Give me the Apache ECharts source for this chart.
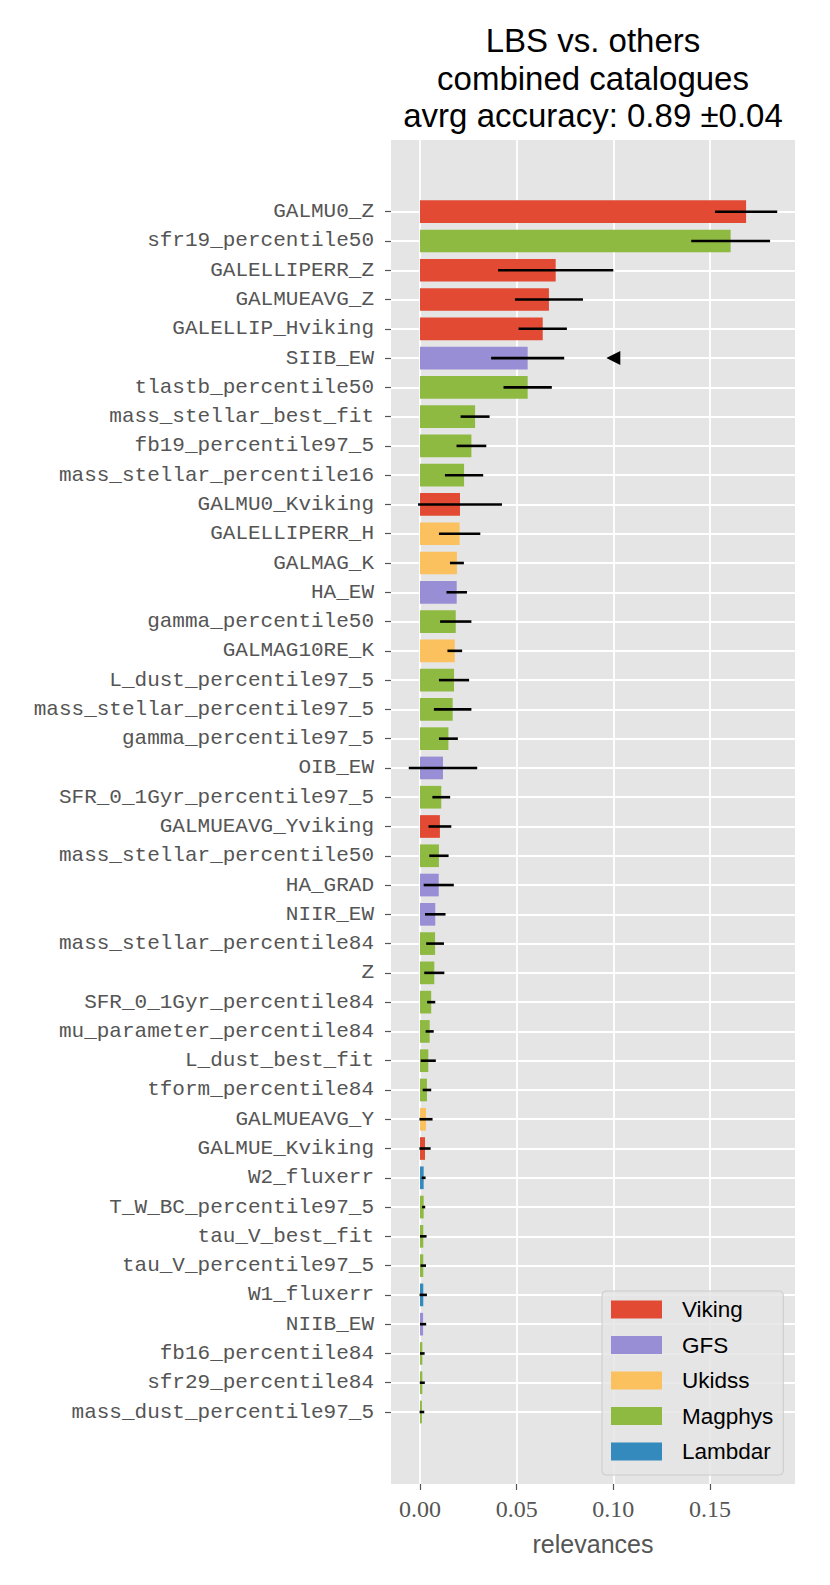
<!DOCTYPE html>
<html>
<head>
<meta charset="utf-8">
<script src="https://cdn.jsdelivr.net/npm/echarts@6/dist/echarts.min.js"></script>
<style>html,body{margin:0;padding:0;background:#fff}#c{width:830px;height:1585px}</style>
</head>
<body>
<div id="c"></div>
<script>
const categories = ["GALMU0_Z","sfr19_percentile50","GALELLIPERR_Z","GALMUEAVG_Z","GALELLIP_Hviking","SIIB_EW","tlastb_percentile50","mass_stellar_best_fit","fb19_percentile97_5","mass_stellar_percentile16","GALMU0_Kviking","GALELLIPERR_H","GALMAG_K","HA_EW","gamma_percentile50","GALMAG10RE_K","L_dust_percentile97_5","mass_stellar_percentile97_5","gamma_percentile97_5","OIB_EW","SFR_0_1Gyr_percentile97_5","GALMUEAVG_Yviking","mass_stellar_percentile50","HA_GRAD","NIIR_EW","mass_stellar_percentile84","Z","SFR_0_1Gyr_percentile84","mu_parameter_percentile84","L_dust_best_fit","tform_percentile84","GALMUEAVG_Y","GALMUE_Kviking","W2_fluxerr","T_W_BC_percentile97_5","tau_V_best_fit","tau_V_percentile97_5","W1_fluxerr","NIIB_EW","fb16_percentile84","sfr29_percentile84","mass_dust_percentile97_5"];
const relevances = [0.1687,0.1607,0.0702,0.0667,0.0635,0.0557,0.0557,0.0285,0.0266,0.0228,0.0207,0.0205,0.0191,0.0190,0.0185,0.0180,0.0176,0.0169,0.0147,0.0119,0.0110,0.0103,0.0098,0.0097,0.0079,0.0078,0.0074,0.0058,0.0050,0.0043,0.0036,0.0031,0.0026,0.0019,0.0019,0.0017,0.0017,0.0017,0.0016,0.0012,0.0012,0.0010];
const errors = [0.0161,0.0204,0.0298,0.0176,0.0125,0.0189,0.0125,0.0075,0.0077,0.0099,0.0217,0.0107,0.0036,0.0053,0.0081,0.0038,0.0078,0.0097,0.0049,0.0177,0.0046,0.0059,0.0050,0.0078,0.0053,0.0046,0.0052,0.0021,0.0021,0.0039,0.0022,0.0034,0.0029,0.0010,0.0008,0.0017,0.0014,0.0019,0.0016,0.0012,0.0013,0.0012];
const catalogueOf = ["Viking","Magphys","Viking","Viking","Viking","GFS","Magphys","Magphys","Magphys","Magphys","Viking","Ukidss","Ukidss","GFS","Magphys","Ukidss","Magphys","Magphys","Magphys","GFS","Magphys","Viking","Magphys","GFS","GFS","Magphys","Magphys","Magphys","Magphys","Magphys","Magphys","Ukidss","Viking","Lambdar","Magphys","Magphys","Magphys","Lambdar","GFS","Magphys","Magphys","Magphys"];
const catalogues = ["Viking","GFS","Ukidss","Magphys","Lambdar"];
const catalogueColors = ["#E24A33","#988ED5","#FBC15E","#8EBA42","#348ABD"];
const markerCategory = "SIIB_EW";
const markerValue = 0.1;
const xTicks = [0, 0.05, 0.10, 0.15];
const titleLines = ["LBS vs. others","combined catalogues","avrg accuracy: 0.89 \u00B10.04"];

const X_MIN = -0.015, X_MAX = 0.194;
const G = {left: 391, width: 404};

const barSeries = catalogues.map((cat, k) => ({
  name: cat,
  type: 'bar',
  xAxisIndex: 1, yAxisIndex: 1,
  stack: 'all',
  barWidth: '77.5%',
  itemStyle: {color: catalogueColors[k]},
  data: relevances.map((v, i) => catalogueOf[i] === cat ? v : '-'),
  z: 3
}));

const errData = relevances.map((v, i) => [v, i, errors[i]]);

const option = {
  animation: false,
  textStyle: {fontFamily: 'Liberation Sans'},
  title: {
    text: titleLines.join('\n'),
    left: 593, top: 22, textAlign: 'center', padding: 0,
    textStyle: {fontSize: 33, lineHeight: 37.5, fontWeight: 'normal', color: '#000', fontFamily: 'Liberation Sans'}
  },
  legend: {
    orient: 'vertical', left: 602, top: 1291,
    data: catalogues,
    icon: 'rect', itemWidth: 51, itemHeight: 18, itemGap: 12.5,
    padding: [7, 10, 12, 9],
    backgroundColor: 'rgba(229,229,229,0.85)',
    borderColor: '#cccccc', borderWidth: 1, borderRadius: 4,
    textStyle: {fontSize: 22.5, color: '#000', fontFamily: 'Liberation Sans', padding: [0,0,0,15]}
  },
  grid: [
    {left: G.left, width: G.width, top: 140, height: 1344, show: true, backgroundColor: '#E5E5E5', borderWidth: 0, containLabel: false},
    {left: G.left, width: G.width, top: 211.7, height: 1200.3, containLabel: false}
  ],
  xAxis: [
    {gridIndex: 0, type: 'value', min: X_MIN, max: X_MAX, splitNumber: 4,
     axisLine: {show: false, onZero: false},
     axisTick: {show: true, length: 6, lineStyle: {color: '#555', width: 1.2}, customValues: xTicks},
     axisLabel: {customValues: xTicks, color: '#555', fontSize: 24, fontFamily: 'Liberation Serif', margin: 13,
                 formatter: v => v.toFixed(2)},
     splitLine: {show: true, lineStyle: {color: '#fff', width: 1.8}},
     name: 'relevances', nameLocation: 'middle', nameGap: 47,
     nameTextStyle: {color: '#555', fontSize: 25, fontFamily: 'Liberation Sans'}
    },
    {gridIndex: 1, type: 'value', min: X_MIN, max: X_MAX, show: false, splitLine: {show: false}}
  ],
  yAxis: [
    {gridIndex: 0, type: 'value', min: 0, max: 1, show: false, splitLine: {show: false}},
    {gridIndex: 1, type: 'category', data: categories, inverse: true, boundaryGap: false,
     axisLine: {show: false, onZero: false},
     axisTick: {show: true, length: 6, lineStyle: {color: '#555', width: 1.2}},
     axisLabel: {color: '#555', fontSize: 21, fontFamily: 'Liberation Mono', margin: 17, interval: 0},
     splitLine: {show: true, lineStyle: {color: '#fff', width: 1.8}}
    }
  ],
  series: [
    ...barSeries,
    {
      type: 'custom', xAxisIndex: 1, yAxisIndex: 1, z: 5,
      data: errData,
      encode: {x: 0, y: 1},
      renderItem: (params, api) => {
        const c = api.value(0), y = api.value(1), e = api.value(2);
        const p1 = api.coord([c - e, y]);
        const p2 = api.coord([c + e, y]);
        return {type: 'line', shape: {x1: p1[0], y1: p1[1], x2: p2[0], y2: p2[1]},
                style: {stroke: '#000', lineWidth: 2.6}};
      }
    },
    {
      type: 'scatter', xAxisIndex: 1, yAxisIndex: 1, z: 6,
      symbol: 'triangle', symbolSize: 14, symbolRotate: 90,
      itemStyle: {color: '#000', opacity: 1},
      data: [[markerValue, markerCategory]]
    }
  ]
};
const chart = echarts.init(document.getElementById('c'), null, {renderer: 'svg'});
chart.setOption(option);
</script>
</body>
</html>
